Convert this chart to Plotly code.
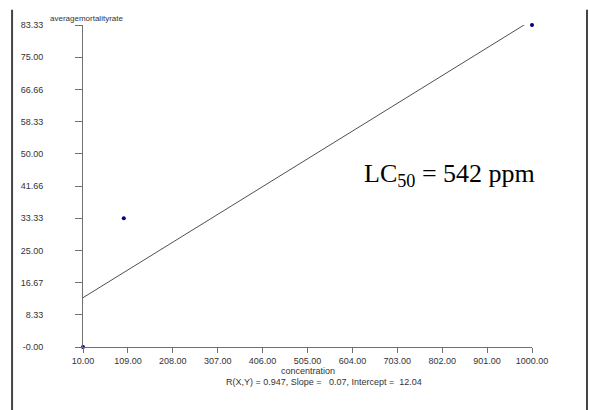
import numpy as np
import plotly.graph_objects as go

conc = [10, 100, 1000]
mortality = [0.0, 33.33, 83.33]

x_tick_vals = [10, 109, 208, 307, 406, 505, 604, 703, 802, 901, 1000]
x_tick_text = ["10.00", "109.00", "208.00", "307.00", "406.00", "505.00",
               "604.00", "703.00", "802.00", "901.00", "1000.00"]
y_tick_vals = [0, 8.333, 16.666, 25.0, 33.333, 41.666, 50.0, 58.333, 66.666, 75.0, 83.33]
y_tick_text = ["-0.00", "8.33", "16.67", "25.00", "33.33", "41.66", "50.00",
               "58.33", "66.66", "75.00", "83.33"]

slope, intercept = np.polyfit(conc, mortality, 1)
r = np.corrcoef(conc, mortality)[0, 1]
fit_x = [min(conc), max(conc)]
fit_y = [slope * v + intercept for v in fit_x]

font = dict(family="Liberation Sans, Arial, sans-serif", size=9, color="#333333")

fig = go.Figure()
fig.add_trace(go.Scatter(x=fit_x, y=fit_y, mode="lines",
                         line=dict(color="#505050", width=1), showlegend=False,
                         hoverinfo="skip"))
fig.add_trace(go.Scatter(x=conc, y=mortality, mode="markers",
                         marker=dict(color="#000080", size=4, symbol="circle"),
                         showlegend=False, cliponaxis=False))

fig.update_layout(
    width=589, height=410,
    margin=dict(l=83, r=57, t=25, b=63),
    paper_bgcolor="white", plot_bgcolor="white",
    font=font,
    xaxis=dict(range=[10, 1000], tickvals=x_tick_vals, ticktext=x_tick_text,
               showgrid=False, zeroline=False, showline=True,
               linecolor="#707070", linewidth=1, ticks="outside", ticklen=5,
               tickcolor="#707070", tickfont=font),
    yaxis=dict(range=[0, 83.33], tickvals=y_tick_vals, ticktext=y_tick_text,
               showgrid=False, zeroline=False, showline=True,
               linecolor="#707070", linewidth=1, ticks="outside", ticklen=7,
               tickcolor="#707070", tickfont=font, ticklabelstandoff=30),
    showlegend=False,
)

fig.add_annotation(text="averagemortalityrate", xref="paper", yref="paper",
                   x=-0.077, y=1.0, xanchor="left", yanchor="bottom",
                   showarrow=False, font=dict(family=font["family"], size=8, color="#333333"))
fig.add_annotation(text="concentration", xref="paper", yref="paper",
                   x=0.5, y=-0.075, xanchor="center", yanchor="middle",
                   showarrow=False, font=font)
fig.add_annotation(text=f"R(X,Y) = {r:.3f}, Slope =   {slope:.2f}, Intercept =  {intercept:.2f}",
                   xref="paper", yref="paper", x=0.315, y=-0.11,
                   xanchor="left", yanchor="middle", showarrow=False, font=font)
fig.add_annotation(text="LC<sub>50</sub> = 542 ppm", xref="paper", yref="paper",
                   x=0.621, y=0.535, xanchor="left", yanchor="middle", showarrow=False,
                   font=dict(family="Liberation Serif, Times New Roman, serif", size=26, color="black"))

# outer frame lines
fig.add_shape(type="line", xref="paper", yref="paper", x0=-0.158, x1=-0.158,
              y0=1.047, y1=-0.2, line=dict(color="#444444", width=2))
fig.add_shape(type="line", xref="paper", yref="paper", x0=1.1225, x1=1.1225,
              y0=1.047, y1=-0.2, line=dict(color="#444444", width=2))

fig.write_html("out.html")
